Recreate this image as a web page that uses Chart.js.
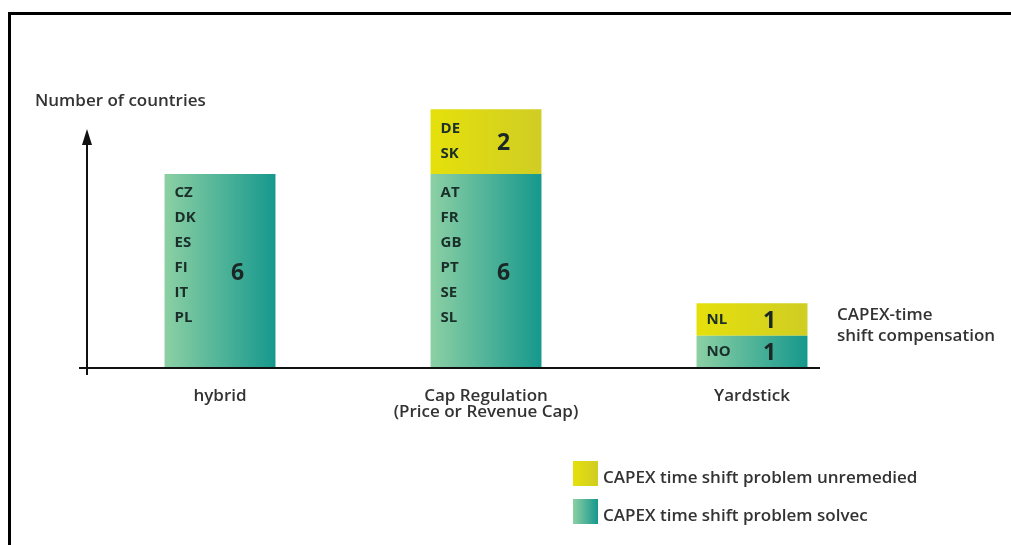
<!DOCTYPE html>
<html>
<head>
<meta charset="utf-8">
<script src="https://cdn.jsdelivr.net/npm/chart.js@4"></script>
<style>
  body { margin: 0; background: #fff; }
  #wrap { position: relative; width: 1011px; height: 545px; }
  #frame { position: absolute; left: 8px; top: 12px; right: 0; bottom: 0;
           border-top: 3px solid #000; border-left: 3px solid #000; pointer-events: none; }
</style>
</head>
<body>
<div id="wrap">
  <canvas id="capexChart" width="1011" height="545"></canvas>
  <div id="frame"></div>
</div>
<script>
// Chart data
const categories = ['hybrid', ['Cap Regulation', '(Price or Revenue Cap)'], 'Yardstick'];
const solvedCounts = [6, 6, 1];
const unremediedCounts = [0, 2, 1];
const solvedCodes = [['CZ', 'DK', 'ES', 'FI', 'IT', 'PL'], ['AT', 'FR', 'GB', 'PT', 'SE', 'SL'], ['NO']];
const unremediedCodes = [[], ['DE', 'SK'], ['NL']];
const seriesLabels = ['CAPEX time shift problem solvec', 'CAPEX time shift problem unremedied'];
const axisTitle = 'Number of countries';
const sideNote = ['CAPEX-time', 'shift compensation'];

const FONT = '"Open Sans", "DejaVu Sans", sans-serif';
const TEXT = '#333333';
const BAR_PCT = 0.417;
const tealStops = ['#8cd0a4', '#16988d'];
const yellowStops = ['#e5e00b', '#d0cd24'];

function hGradient(ctx, x0, x1, stops) {
    const g = ctx.createLinearGradient(x0, 0, x1, 0);
    g.addColorStop(0, stops[0]);
    g.addColorStop(1, stops[1]);
    return g;
}

// each bar gets its own left-to-right gradient
function barFill(stops) {
    return function (context) {
        const chart = context.chart;
        const x = chart.scales.x;
        if (!chart.chartArea || !x) return stops[1];
        const half = (x.width / categories.length) * BAR_PCT / 2;
        const cx = x.getPixelForValue(context.dataIndex);
        return hGradient(chart.ctx, cx - half, cx + half, stops);
    };
}

const decor = {
    id: 'decor',
    afterDatasetsDraw(chart) {
        const ctx = chart.ctx;
        ctx.save();
        chart.data.datasets.forEach((ds, i) => {
            chart.getDatasetMeta(i).data.forEach((el, j) => {
                const value = ds.data[j];
                if (!value) return;
                const top = Math.min(el.y, el.base), bottom = Math.max(el.y, el.base);
                const left = el.x - el.width / 2;
                const mid = (top + bottom) / 2;
                const codes = ds.codes[j];
                const step = 25;
                const blockMid = Math.min(mid, top + 19 + (codes.length - 1) * step / 2);
                ctx.fillStyle = '#1b2f2a';
                ctx.font = 'bold 15px ' + FONT;
                ctx.textAlign = 'left';
                ctx.textBaseline = 'middle';
                codes.forEach((c, k) => {
                    ctx.fillText(c, left + 10, blockMid + (k - (codes.length - 1) / 2) * step);
                });
                ctx.font = 'bold 23px ' + FONT;
                ctx.textAlign = 'center';
                ctx.fillStyle = '#1a2724';
                ctx.fillText(String(value), left + 73, mid + 2);
            });
        });
        ctx.restore();
    },
    afterDraw(chart) {
        const ctx = chart.ctx;
        const area = chart.chartArea;
        const x = chart.scales.x;
        ctx.save();
        ctx.strokeStyle = '#111';
        ctx.fillStyle = '#111';
        ctx.lineWidth = 2;
        // x axis
        const axisEnd = x.getPixelForValue(categories.length - 1) + 68;
        ctx.beginPath();
        ctx.moveTo(area.left - 8, area.bottom);
        ctx.lineTo(axisEnd, area.bottom);
        ctx.stroke();
        // y axis with arrow
        const tip = area.top + 52;
        ctx.beginPath();
        ctx.moveTo(area.left, area.bottom + 7);
        ctx.lineTo(area.left, tip + 10);
        ctx.stroke();
        ctx.beginPath();
        ctx.moveTo(area.left, tip);
        ctx.lineTo(area.left - 5, tip + 16);
        ctx.lineTo(area.left + 5, tip + 16);
        ctx.closePath();
        ctx.fill();
        // axis title
        ctx.fillStyle = TEXT;
        ctx.font = '600 17px ' + FONT;
        ctx.textAlign = 'left';
        ctx.textBaseline = 'middle';
        ctx.fillText(axisTitle, 35, 101);
        // side note next to Yardstick
        ctx.fillText(sideNote[0], 837, 315);
        ctx.fillText(sideNote[1], 837, 336);
        // legend
        const order = [1, 0];
        order.forEach((i, k) => {
            const ds = chart.data.datasets[i];
            const top = 461 + k * 38;
            ctx.fillStyle = hGradient(ctx, 573, 598, ds.stops);
            ctx.fillRect(573, top, 25, 25);
            ctx.fillStyle = TEXT;
            ctx.font = '600 17px ' + FONT;
            ctx.fillText(ds.label, 603, top + 17);
        });
        ctx.restore();
    }
};

const ctx = document.getElementById('capexChart').getContext('2d');
new Chart(ctx, {
    type: 'bar',
    data: {
        labels: categories,
        datasets: [{
            label: seriesLabels[0],
            data: solvedCounts,
            codes: solvedCodes,
            stops: tealStops,
            backgroundColor: barFill(tealStops),
            borderWidth: 0
        }, {
            label: seriesLabels[1],
            data: unremediedCounts,
            codes: unremediedCodes,
            stops: yellowStops,
            backgroundColor: barFill(yellowStops),
            borderWidth: 0
        }]
    },
    options: {
        responsive: false,
        animation: false,
        layout: { padding: { left: 87, right: 126, top: 77, bottom: 0 } },
        barPercentage: BAR_PCT,
        categoryPercentage: 1,
        plugins: {
            legend: { display: false },
            tooltip: { enabled: false }
        },
        scales: {
            x: {
                stacked: true,
                grid: { display: false },
                border: { display: false },
                ticks: {
                    color: TEXT,
                    padding: 12,
                    font: { family: FONT, size: 17, weight: '600', lineHeight: '16px' }
                },
                afterFit(scale) { scale.height = 177; }
            },
            y: {
                stacked: true,
                display: false,
                min: 0,
                max: 9
            }
        }
    },
    plugins: [decor]
});
</script>
</body>
</html>
